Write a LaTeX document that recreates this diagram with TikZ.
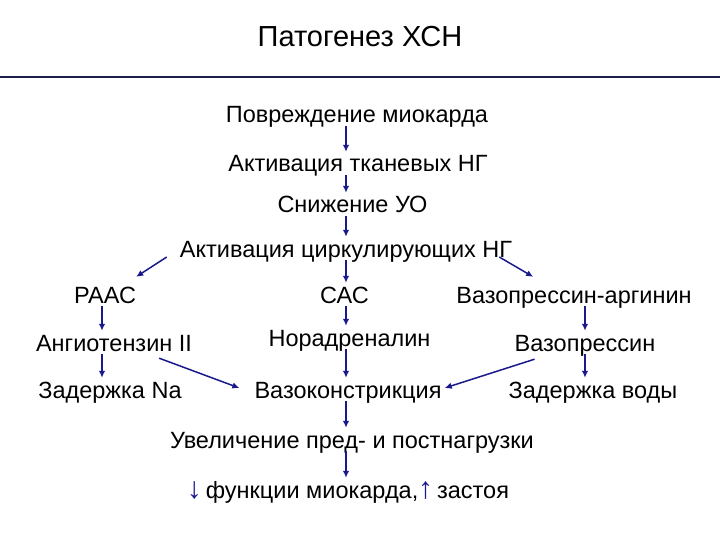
\documentclass[tikz,border=0pt]{standalone}
\usepackage{fontspec}
\setmainfont{Liberation Sans}
\usetikzlibrary{arrows.meta,calc}
\definecolor{arrowblue}{RGB}{25,25,140}
\definecolor{rulecol}{RGB}{28,32,72}
\newcommand{\bigarr}[1]{{\color{arrowblue}\fontsize{30}{30}\selectfont #1}}
\begin{document}
\begin{tikzpicture}[x=1pt,y=-1pt,
  lbl/.style={anchor=base, font=\fontsize{23.5}{28}\selectfont, text height=16pt, text depth=2pt, inner xsep=1pt, inner ysep=1pt},
  arr/.style={draw=arrowblue, line width=1.5pt, -{Latex[length=7pt,width=6.5pt]}, shorten >=3pt}]
\useasboundingbox (0,0) rectangle (720,540);
\node[anchor=base, font=\fontsize{29}{34}\selectfont] (title) at (360,47) {Патогенез ХСН};
\draw[rulecol, line width=2.5pt] (0,77) -- (720,77);
% nodes
\node[lbl] (p1) at (357,123) {Повреждение миокарда};
\node[lbl] (p2) at (358,172) {Активация тканевых НГ};
\node[lbl] (p3) at (352.5,213) {Снижение УО};
\node[lbl] (p4) at (346,257) {Активация циркулирующих НГ};
\node[lbl] (raas) at (105,303) {РААС};
\node[lbl] (sas) at (344.5,303) {САС};
\node[lbl] (va) at (574,303) {Вазопрессин-аргинин};
\node[lbl] (ang) at (114,351) {Ангиотензин II};
\node[lbl] (nor) at (349.5,346) {Норадреналин};
\node[lbl] (vp) at (585,351) {Вазопрессин};
\node[lbl] (zna) at (110,398) {Задержка Na};
\node[lbl] (vaso) at (348,398) {Вазоконстрикция};
\node[lbl] (zv) at (593,398) {Задержка воды};
\node[lbl] (uv) at (352,448) {Увеличение пред- и постнагрузки};
\node[lbl] (fn) at (348,498) {\bigarr{↓}\,функции миокарда,\bigarr{↑}\,застоя};
\coordinate (cx) at (346,0);
\coordinate (lx) at (102,0);
\coordinate (rx) at (585,0);
% central chain
\draw[arr] (p1.south -| cx) -- (p2.north -| cx);
\draw[arr] (p2.south -| cx) -- (p3.north -| cx);
\draw[arr] (p3.south -| cx) -- (p4.north -| cx);
\draw[arr] (p4.south -| cx) -- (sas.north -| cx);
\draw[arr] (sas.south -| cx) -- (nor.north -| cx);
\draw[arr] (nor.south -| cx) -- (vaso.north -| cx);
\draw[arr] (vaso.south -| cx) -- (uv.north -| cx);
\draw[arr] (uv.south -| cx) -- (fn.north -| cx);
% left column
\draw[arr] (raas.south -| lx) -- (ang.north -| lx);
\draw[arr] (ang.south -| lx) -- (zna.north -| lx);
% right column
\draw[arr] (va.south -| rx) -- (vp.north -| rx);
\draw[arr] (vp.south -| rx) -- (zv.north -| rx);
% diagonals
\draw[arr, shorten >=0pt] ([xshift=-12pt]p4.base west) -- ([xshift=-1pt,yshift=9pt]raas.north east);
\draw[arr, shorten >=0pt] ([xshift=-14pt]p4.base east) -- ([xshift=78pt,yshift=9pt]va.north west);
\draw[arr, shorten >=0pt] ([xshift=-34pt,yshift=-4pt]ang.south east) -- ([xshift=-14pt,yshift=3pt]vaso.west);
\draw[arr, shorten >=0pt] ([xshift=21pt,yshift=-5pt]vp.south west) -- ([xshift=2pt,yshift=3pt]vaso.east);
\end{tikzpicture}
\end{document}
